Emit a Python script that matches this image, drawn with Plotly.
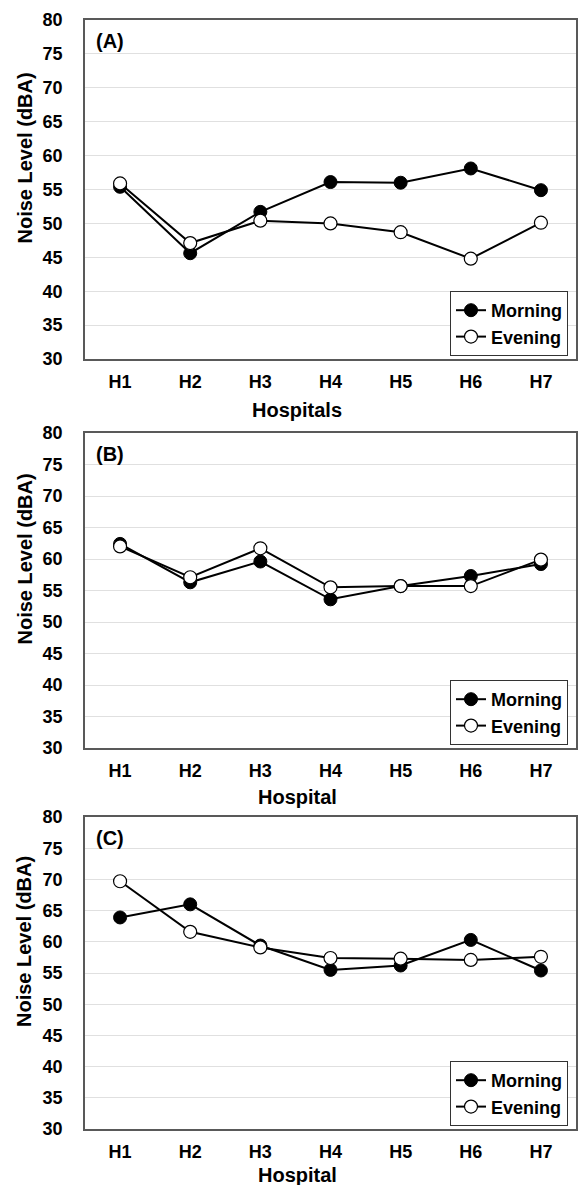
import plotly.graph_objects as go

# Hospitals on the category axis
hospitals = ["H1", "H2", "H3", "H4", "H5", "H6", "H7"]

# Noise levels (dBA) per panel
morning_a = [55.4, 45.6, 51.7, 56.1, 56.0, 58.1, 54.9]
evening_a = [55.9, 47.1, 50.4, 50.0, 48.7, 44.8, 50.1]

morning_b = [62.4, 56.3, 59.6, 53.6, 55.7, 57.3, 59.2]
evening_b = [62.0, 57.1, 61.7, 55.5, 55.7, 55.7, 59.9]

morning_c = [63.9, 66.0, 59.4, 55.5, 56.2, 60.3, 55.4]
evening_c = [69.7, 61.6, 59.1, 57.4, 57.3, 57.1, 57.6]

panel_labels = ["(A)", "(B)", "(C)"]
x_titles = ["Hospitals", "Hospital", "Hospital"]
y_title = "Noise Level (dBA)"
y_ticks = [30, 35, 40, 45, 50, 55, 60, 65, 70, 75, 80]

panels = [(morning_a, evening_a), (morning_b, evening_b), (morning_c, evening_c)]

# Page geometry (pixels)
W, H = 578, 1185
M_L, M_R, M_T, M_B = 85, 2, 20, 56
plot_w = W - M_L - M_R
plot_h = H - M_T - M_B
panel_px = [(20, 359), (433, 748), (817, 1129)]  # top, bottom of each frame
x_title_px = [410, 797, 1175]                     # centre line of x titles


def fy(py):
    return (H - M_B - py) / plot_h


def fx(px):
    return (px - M_L) / plot_w


FONT = "Liberation Sans, Arial, sans-serif"
tick_font = dict(family=FONT, size=18, color="black", weight="bold")
title_font = dict(family=FONT, size=20, color="black", weight="bold")

fig = go.Figure()

for i, (morn, eve) in enumerate(panels):
    n = "" if i == 0 else str(i + 1)
    xa, ya, lg = "x" + n, "y" + n, "legend" + n
    fig.add_trace(go.Scatter(
        x=hospitals, y=morn, name="Morning", mode="lines+markers",
        xaxis=xa, yaxis=ya, legend=lg,
        line=dict(color="black", width=2),
        marker=dict(symbol="circle", size=13, color="black",
                    line=dict(color="black", width=1)),
    ))
    fig.add_trace(go.Scatter(
        x=hospitals, y=eve, name="Evening", mode="lines+markers",
        xaxis=xa, yaxis=ya, legend=lg,
        line=dict(color="black", width=2),
        marker=dict(symbol="circle", size=13, color="white",
                    line=dict(color="black", width=1.2)),
    ))

    top, bot = panel_px[i]
    dom = [fy(bot), fy(top)]
    fig.layout["xaxis" + n] = dict(
        domain=[0, 1], anchor=ya, type="category",
        categoryorder="array", categoryarray=hospitals,
        range=[-0.5, 6.5], showgrid=False, ticks="",
        showline=True, mirror=True, linecolor="#595959", linewidth=1.5,
        tickfont=tick_font, ticklabelstandoff=6, zeroline=False,
    )
    fig.layout["yaxis" + n] = dict(
        domain=dom, anchor=xa, range=[30, 80], tickvals=y_ticks,
        showgrid=True, gridcolor="#e0e0e0", gridwidth=1, ticks="",
        showline=True, mirror=True, linecolor="#595959", linewidth=1.5,
        tickfont=tick_font, ticklabelstandoff=17, zeroline=False,
    )
    fig.layout[lg] = dict(
        x=fx(568), xanchor="right",
        y=dom[0] + 3 / plot_h, yanchor="bottom",
        bgcolor="white", bordercolor="#333333", borderwidth=1,
        font=dict(family=FONT, size=18, color="black", weight="bold"),
        itemwidth=30, tracegroupgap=0,
    )
    # panel tag
    fig.add_annotation(
        text=panel_labels[i], xref=xa + " domain", yref=ya + " domain",
        x=0.018, y=1, xanchor="left", yanchor="top", yshift=-8,
        showarrow=False, font=title_font,
    )
    # x-axis title
    fig.add_annotation(
        text=x_titles[i], xref="paper", yref="paper",
        x=fx(297), y=fy(x_title_px[i]), xanchor="center", yanchor="middle",
        showarrow=False, font=title_font,
    )
    # y-axis title
    fig.add_annotation(
        text=y_title, xref="paper", yref="paper", textangle=-90,
        x=fx(24), y=fy((top + bot) / 2 - 31), xanchor="center", yanchor="middle",
        showarrow=False, font=title_font,
    )

fig.update_layout(
    width=W, height=H,
    margin=dict(l=M_L, r=M_R, t=M_T, b=M_B, autoexpand=False),
    paper_bgcolor="white", plot_bgcolor="white",
    showlegend=True,
)

fig.write_html("out.html")
